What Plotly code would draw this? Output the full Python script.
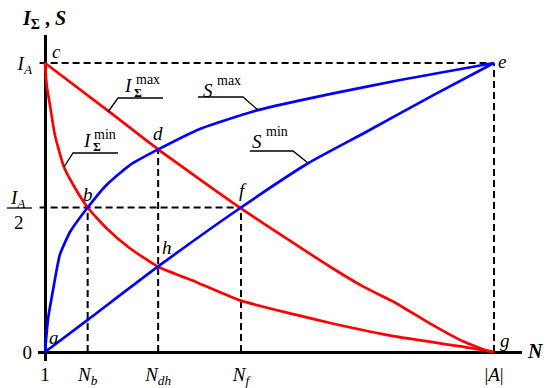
import plotly.graph_objects as go

# ── Data (x as a fraction of |A|, y as a fraction of I_A) ─────────────────
imax_x = [0, 0.145, 0.252, 0.4365, 0.635, 0.709, 0.783, 0.857, 0.932, 0.984, 1.0]
imax_y = [1, 0.829, 0.701, 0.497, 0.295, 0.226, 0.168, 0.099, 0.036, 0.005, 0.0]

imin_x = [0, 0.004, 0.011, 0.022, 0.042, 0.063, 0.095, 0.137, 0.189, 0.252,
          0.340, 0.438, 0.553, 0.645, 0.783, 0.932, 1.0]
imin_y = [1, 0.92, 0.855, 0.751, 0.641, 0.578, 0.5, 0.428, 0.359, 0.295,
          0.240, 0.177, 0.131, 0.097, 0.053, 0.018, 0.0]

smax_x = [0, 0.007, 0.0185, 0.033, 0.056, 0.095, 0.137, 0.189, 0.252, 0.345,
          0.474, 0.642, 0.791, 1.0]
smax_y = [0, 0.117, 0.22, 0.336, 0.416, 0.5, 0.578, 0.647, 0.701, 0.772,
          0.837, 0.895, 0.941, 1.0]

smin_x = [0, 0.095, 0.252, 0.4365, 0.586, 0.716, 0.865, 1.0]
smin_y = [0, 0.111, 0.296, 0.5, 0.653, 0.762, 0.889, 1.0]

N_b, N_dh, N_f = 0.095, 0.252, 0.4365
d_level, h_level, half = 0.701, 0.296, 0.5

x_tickvals = [0, N_b, N_dh, N_f, 1.0]
x_ticktext = ["1", "<i>N</i><sub><i>b</i></sub>", "<i>N</i><sub><i>dh</i></sub>",
              "<i>N</i><sub><i>f</i></sub>", "|<i>A</i>|"]
y_tickvals = [0, 1]
y_ticktext = ["0", "<i>I</i><sub><i>A</i></sub>"]

point_names = ["a", "b", "c", "d", "e", "f", "g", "h"]
point_x = [0, N_b, 0, N_dh, 1, N_f, 1, N_dh]
point_y = [0, half, 1, d_level, 1, half, 0, h_level]
point_shift = [(9, 15), (0, 13), (11, 12), (0, 16), (8, 2), (2, 17), (11, 12), (9, 19)]

# ── Geometry ──────────────────────────────────────────────────────────────
W, H = 550, 388
L, R, T, B = 38, 28, 35, 27
X0, X1 = 45, 494      # pixel of x=0, x=1
Y0, Y1 = 352, 63      # pixel of y=0, y=1
FONT = "Liberation Serif"
RED, BLUE = "#FF0000", "#0000FF"


def px(x, y):
    return (x - L) / (W - L - R), (H - B - y) / (H - T - B)


fig = go.Figure()

# dashed guides
DASH = dict(color="black", width=2, dash="7px,4px")
guides = [
    ([-0.012, 1], [1, 1]),
    ([-0.012, N_f], [half, half]),
    ([N_b, N_b], [0, half]),
    ([N_dh, N_dh], [0, d_level]),
    ([N_f, N_f], [0, half]),
    ([1, 1], [0, 1]),
]
for gx, gy in guides:
    fig.add_trace(go.Scatter(x=gx, y=gy, mode="lines", line=DASH, hoverinfo="skip"))

for cx, cy, col in [(imax_x, imax_y, RED), (imin_x, imin_y, RED),
                    (smax_x, smax_y, BLUE), (smin_x, smin_y, BLUE)]:
    fig.add_trace(go.Scatter(x=cx, y=cy, mode="lines",
                             line=dict(color=col, width=2.7, shape="spline", smoothing=0.5)))

# leader lines
leaders = [
    [(108, 112), (118, 98), (163, 98)],
    [(64, 167), (73, 153), (118, 153)],
    [(258, 110), (243, 97), (198, 97)],
    [(308, 163), (293, 151), (250, 151)],
    [(7, 208), (32, 208)],
]
for pts in leaders:
    p = [px(*q) for q in pts]
    path = "M " + " L ".join(f"{a:.5f},{b:.5f}" for a, b in p)
    fig.add_shape(type="path", path=path, xref="paper", yref="paper",
                  line=dict(color="black", width=1.3))


def lab(text, x, y, size=19, bold=False):
    a, b = px(x, y)
    fig.add_annotation(x=a, y=b, xref="paper", yref="paper", text=text, showarrow=False,
                       xanchor="center", yanchor="middle",
                       font=dict(family=FONT, size=size, color="black",
                                 weight="bold" if bold else "normal"))


# point letters
for name, x, y, (sx, sy) in zip(point_names, point_x, point_y, point_shift):
    fig.add_annotation(x=x, y=y, text=f"<i>{name}</i>", showarrow=False,
                       xshift=sx, yshift=sy, xanchor="center", yanchor="middle",
                       font=dict(family=FONT, size=19, color="black"))

# curve names
lab("<i>I</i>", 128, 85)
lab("max", 148, 79, 14)
lab("Σ", 138, 93, 12, True)
lab("<i>I</i>", 87, 140)
lab("min", 105, 134, 14)
lab("Σ", 97, 147, 12, True)
lab("<i>S</i>", 208, 90)
lab("max", 229, 81, 14)
lab("<i>S</i>", 257, 141)
lab("min", 277, 131, 14)

# y half label
lab("<i>I</i><sub><i>A</i></sub>", 18, 199)
lab("2", 19, 222)

# axis names
lab("<i>I</i><sub>Σ</sub> , <i>S</i>", 44, 19, 20, True)
lab("<i>N</i>", 535, 351, 20, True)

fig.update_layout(
    width=W, height=H,
    margin=dict(l=L, r=R, t=T, b=B, autoexpand=False),
    paper_bgcolor="white", plot_bgcolor="white",
    showlegend=False,
    xaxis=dict(
        range=[(L - X0) / (X1 - X0), (W - R - X0) / (X1 - X0)],
        showgrid=False, showline=False,
        zeroline=True, zerolinecolor="black", zerolinewidth=3,
        tickvals=x_tickvals, ticktext=x_ticktext, ticks="",
        tickfont=dict(family=FONT, size=19, color="black"),
    ),
    yaxis=dict(
        range=[(Y0 - (H - B)) / (Y0 - Y1), (Y0 - T) / (Y0 - Y1)],
        showgrid=False, showline=False,
        zeroline=True, zerolinecolor="black", zerolinewidth=3,
        tickvals=y_tickvals, ticktext=y_ticktext, ticks="",
        ticklabelstandoff=5,
        tickfont=dict(family=FONT, size=19, color="black"),
    ),
)

# page body has an 8px default margin; drop it so the figure sits at 0,0
fig.write_html("out.html", config={"displayModeBar": False},
               post_script="document.body.style.margin='0px';")
